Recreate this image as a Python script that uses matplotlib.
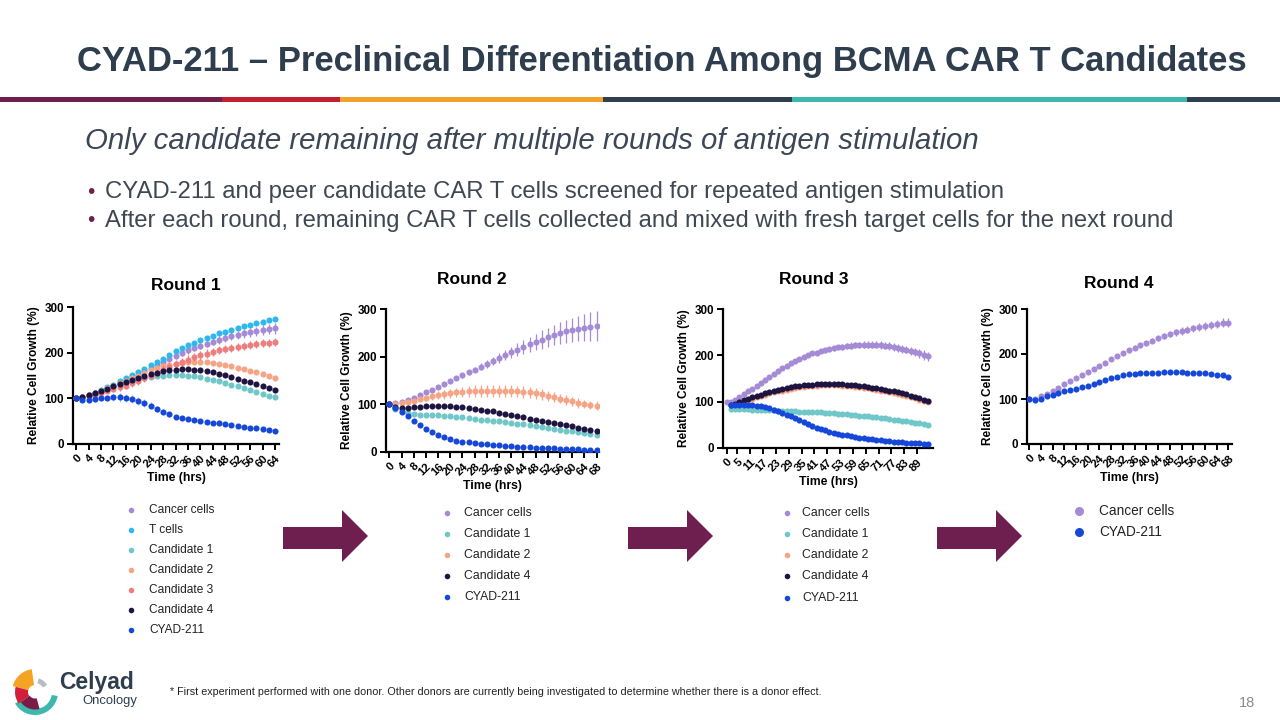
import numpy as np
import matplotlib
matplotlib.use("Agg")
import matplotlib.pyplot as plt
from matplotlib.patches import Polygon, Rectangle, Wedge
from matplotlib import font_manager as fm

# ---------------- data ----------------
nan = np.nan
r1_time = list(range(0, 65, 2))
r1_cancer = [100,103,107,112,117,122,128,134,140,146,152,159,166,172,179,186,193,199,205,210,215,220,224,228,232,236,239,242,245,247,249,251,253]
r1_tcells = [100,103,107,112,118,124,130,137,144,151,158,165,172,179,186,195,204,210,216,222,227,232,237,242,246,250,254,258,261,265,268,271,274]
r1_cand1 = [100,103,107,111,116,121,126,131,135,139,142,145,147,149,150,151,151,151,150,148,146,143,140,137,134,130,126,122,118,114,110,106,102]
r1_cand2 = [100,103,107,112,117,122,127,133,139,145,150,156,161,166,170,173,176,178,180,180,180,179,177,175,173,170,167,164,160,157,153,149,145]
r1_cand3 = [100,102,105,108,112,116,120,124,128,133,138,144,150,156,163,169,175,180,185,190,194,198,202,205,208,211,213,215,217,219,221,222,223]
r1_cand4 = [100,103,107,111,116,121,126,131,136,141,145,149,153,156,159,161,163,164,164,163,162,160,157,154,151,147,143,139,135,131,127,122,118]
r1_cyad = [100,97,97,98,100,101,102,102,101,99,95,90,84,77,71,65,60,57,54,52,50,48,46,45,43,42,40,38,36,35,33,31,29]
r1_cancer_err = [0,1,1,2,2,2,3,3,3,4,4,4,5,5,5,6,6,6,7,7,7,8,8,8,9,9,9,10,10,10,11,11,12]
r1_cand3_err = [0,1,2,3,4,5,6,7,7,8,8,8,8,9,9,9,9,9,9,9,9,9,9,9,9,9,9,9,9,9,9,9,9]
r1_cyad_err = [0,2,4,5,6,7,8,9,9,9,9,8,8,7,6,5,4,3,3,2,2,2,2,2,2,2,2,2,2,2,2,2,2]
r1_xticks = list(range(0, 65, 4))

r2_time = list(range(0, 69, 2))
r2_cancer = [100,102,105,109,114,119,125,131,137,143,149,155,161,167,173,179,185,191,197,203,209,215,221,226,231,236,241,245,249,253,256,259,261,263,264]
r2_cand1 = [100,90,85,81,79,78,78,77,77,76,75,74,73,71,70,68,67,65,64,62,61,59,58,56,54,52,51,49,47,45,44,42,40,38,36]
r2_cand2 = [100,101,103,105,108,111,114,117,119,121,123,125,126,127,128,128,128,128,128,128,128,127,126,125,123,121,118,115,112,109,106,103,101,99,97]
r2_cand4 = [100,95,93,93,94,95,96,96,96,96,96,95,94,93,91,89,87,85,82,80,78,75,73,70,68,65,63,61,58,56,54,51,49,47,45]
r2_cyad = [100,92,83,75,66,57,49,42,36,31,27,24,22,20,18,17,16,15,14,13,12,11,10,10,9,9,8,8,7,7,6,6,5,5,5]
r2_cancer_err = [0,1,1,1,2,2,2,3,3,3,4,4,5,5,6,7,8,9,10,11,12,13,15,16,17,19,20,21,23,24,26,27,29,30,32]
r2_cand2_err = [0,1,2,3,4,5,6,7,8,9,10,10,11,11,12,12,12,12,12,12,12,12,12,12,12,11,11,11,10,10,10,10,9,9,9]
r2_xticks = list(range(0, 69, 4))

r3_time = list(range(0, 95, 2))
r3_cancer = [100,100,104,110,116,122,128,134,141,147,154,160,166,172,178,183,188,192,196,200,204,206,209,211,213,215,217,218,220,221,222,222,223,223,223,223,222,221,220,218,216,214,212,210,207,204,201,198]
r3_cand1 = [nan,85,84,84,84,84,83,83,83,82,82,81,80,80,79,79,79,78,78,78,78,77,77,76,76,75,74,74,73,72,71,70,69,68,67,66,65,64,63,61,60,59,58,56,55,53,51,49]
r3_cand2 = [nan,92,94,97,100,103,106,109,112,115,118,120,122,124,126,128,130,131,132,133,134,134,135,135,135,135,135,134,134,133,132,131,130,129,127,126,124,122,120,118,116,114,112,110,107,104,101,99]
r3_cand4 = [nan,93,96,100,103,106,109,112,115,118,121,123,125,127,129,131,133,134,135,136,137,138,138,139,139,139,138,138,137,136,135,134,133,132,130,129,127,126,124,122,120,118,116,113,110,107,104,101]
r3_cyad = [nan,92,93,93,93,93,92,91,90,88,86,83,80,76,72,68,64,60,56,52,48,44,41,38,35,33,31,29,27,25,23,22,21,20,19,18,17,16,15,14,13,12,11,11,10,10,9,9]
r3_cancer_err = [0,0,1,1,1,1,1,1,1,2,2,2,2,2,2,3,3,3,4,4,4,5,5,5,6,6,6,6,7,7,7,7,8,8,8,8,8,8,8,8,8,8,8,9,9,9,10,10]
r3_cyad_err = [0,1,1,2,2,3,3,4,4,5,5,6,6,6,6,6,6,6,6,6,6,5,5,5,5,4,4,4,4,4,3,3,3,3,3,3,3,3,2,2,2,2,2,2,2,2,2,2]
r3_xticks = [0,5,11,17,23,29,35,41,47,53,59,65,71,77,83,89]

r4_time = list(range(0, 69, 2))
r4_cancer = [100,100,106,111,118,125,133,139,146,153,160,166,173,180,188,195,202,208,214,219,224,230,235,240,244,248,251,254,257,260,262,265,267,269,270]
r4_cyad = [100,97,101,106,110,114,117,120,123,126,130,134,138,143,147,150,153,155,156,157,157,158,158,159,159,159,159,158,158,157,157,155,154,153,150]
r4_cancer_err = [0,1,1,1,1,2,2,2,2,3,3,3,3,4,4,4,5,5,5,5,6,6,6,7,7,7,8,8,8,8,9,9,9,10,10]
r4_xticks = list(range(0, 69, 4))

y_ticks = [0, 100, 200, 300]
round_titles = ["Round 1", "Round 2", "Round 3", "Round 4"]
title_text = "CYAD-211 \u2013 Preclinical Differentiation Among BCMA CAR T Candidates"
subtitle_text = "Only candidate remaining after multiple rounds of antigen stimulation"
bullets = ["CYAD-211 and peer candidate CAR T cells screened for repeated antigen stimulation",
           "After each round, remaining CAR T cells collected and mixed with fresh target cells for the next round"]
footnote = "* First experiment performed with one donor. Other donors are currently being investigated to determine whether there is a donor effect."
page_no = "18"

COLORS = {
    "Cancer cells": "#A58BD5",
    "T cells": "#2EB8EB",
    "Candidate 1": "#6FC7C9",
    "Candidate 2": "#F5A585",
    "Candidate 3": "#EE7E7E",
    "Candidate 4": "#1E1442",
    "CYAD-211": "#1547D8",
}
CYAD_ERR = "#86D6F2"

# ---------------- fonts ----------------
def has_font(name):
    try:
        fm.findfont(fm.FontProperties(family=name), fallback_to_default=False)
        return True
    except Exception:
        return False

BASE = "Liberation Sans" if has_font("Liberation Sans") else "DejaVu Sans"
plt.rcParams["font.family"] = [BASE, "DejaVu Sans"]

W, H = 1280, 720
fig = plt.figure(figsize=(12.8, 7.2), dpi=100)
fig.patch.set_facecolor("white")

ov = fig.add_axes([0, 0, 1, 1])
ov.set_xlim(0, W)
ov.set_ylim(H, 0)
ov.axis("off")
ov.set_zorder(0)

# header
t_title = ov.text(77, 61, title_text, fontsize=27, fontweight="bold", color="#2E3E4E",
                  ha="left", va="center")
bar_segments = [(0, 222, "#701E50"), (222, 340, "#C2202F"), (340, 603, "#F1A22A"),
                (603, 792, "#2E3F50"), (792, 1187, "#3DB8AE"), (1187, 1280, "#2E3F50")]
for x0, x1, c in bar_segments:
    ov.add_patch(Rectangle((x0, 97), x1 - x0, 5, color=c, lw=0))

t_sub = ov.text(85, 141, subtitle_text, fontsize=20, style="italic", color="#3B4756", ha="left", va="center")
t_bul = []
for i, b in enumerate(bullets):
    y = 192 + i * 29
    ov.text(87, y, "\u2022", fontsize=15, color="#6D1F4E", ha="left", va="center")
    t_bul.append(ov.text(105, y, b, fontsize=16, color="#3E4752", ha="left", va="center"))
t_foot = ov.text(170, 692, footnote, fontsize=7.5, color="#222222", ha="left", va="center")

fig.canvas.draw()
rdr = fig.canvas.get_renderer()
def fit(txt, target):
    w = txt.get_window_extent(rdr).width
    txt.set_fontsize(txt.get_fontsize() * target / w)
fit(t_title, 1168)
fit(t_sub, 892)
fit(t_bul[0], 902)
t_bul[1].set_fontsize(t_bul[0].get_fontsize())
fit(t_foot, 645)

# ---------------- charts ----------------
def px_axes(l, t, rgt, b):
    return fig.add_axes([l / W, 1 - b / H, (rgt - l) / W, (b - t) / H])

def draw_round(box, xlim, t, series, xticks, title, title_xy):
    ax = px_axes(*box)
    ax.set_zorder(2)
    ax.patch.set_alpha(0)
    for k, (name, vals, err, ecol) in enumerate(series):
        ax.errorbar(t, np.array(vals, dtype=float), yerr=np.array(err, dtype=float) if np.ndim(err) else err,
                    fmt="o", ms=4.4, mew=0, color=COLORS[name], ecolor=ecol or COLORS[name],
                    elinewidth=0.9, capsize=2.0, capthick=0.9, zorder=3 + k)
    ax.set_xlim(*xlim)
    ax.set_ylim(0, 300)
    ax.set_yticks(y_ticks)
    ax.set_yticklabels([str(v) for v in y_ticks], fontsize=8.4, fontweight="bold")
    ax.set_xticks(xticks)
    ax.set_xticklabels([str(v) for v in xticks], rotation=45, ha="right", rotation_mode="anchor",
                       fontsize=8.2, fontweight="bold")
    for s in ("top", "right"):
        ax.spines[s].set_visible(False)
    for s in ("left", "bottom"):
        ax.spines[s].set_linewidth(1.6)
    ax.tick_params(direction="out", length=4, width=1.4, pad=2.5)
    ax.set_ylabel("Relative Cell Growth (%)", fontsize=8.6, fontweight="bold", labelpad=3)
    ax.set_xlabel("Time (hrs)", fontsize=8.8, fontweight="bold", labelpad=2)
    ov.text(title_xy[0], title_xy[1], title, fontsize=12.5, fontweight="bold", ha="center", va="center")
    return [s[0] for s in series]

rounds = [
    dict(box=(73, 307, 279, 444), xlim=(-1.0, 65.3), t=r1_time, xticks=r1_xticks, title_xy=(186, 285),
         series=[("Cancer cells", r1_cancer, r1_cancer_err, None),
                 ("T cells", r1_tcells, 2, None),
                 ("Candidate 1", r1_cand1, 2, None),
                 ("Candidate 2", r1_cand2, 3, None),
                 ("Candidate 3", r1_cand3, r1_cand3_err, None),
                 ("Candidate 4", r1_cand4, 1.5, None),
                 ("CYAD-211", r1_cyad, r1_cyad_err, CYAD_ERR)],
         legend=dict(mx=131, tx=149, ys=[510, 530, 550, 570, 590, 610, 630], fs=8.6, ms=4)),
    dict(box=(386, 309, 599, 452), xlim=(-1.1, 68.8), t=r2_time, xticks=r2_xticks, title_xy=(472, 280),
         series=[("Cancer cells", r2_cancer, r2_cancer_err, None),
                 ("Candidate 1", r2_cand1, 2, None),
                 ("Candidate 2", r2_cand2, r2_cand2_err, None),
                 ("Candidate 4", r2_cand4, 1.5, None),
                 ("CYAD-211", r2_cyad, 1.5, CYAD_ERR)],
         legend=dict(mx=447, tx=464, ys=[513, 534, 555, 576, 597], fs=8.8, ms=4)),
    dict(box=(723, 309, 933, 448), xlim=(-1.7, 96.4), t=r3_time, xticks=r3_xticks, title_xy=(814, 280),
         series=[("Cancer cells", r3_cancer, r3_cancer_err, None),
                 ("Candidate 1", r3_cand1, 2, None),
                 ("Candidate 2", r3_cand2, 2, None),
                 ("Candidate 4", r3_cand4, 2, None),
                 ("CYAD-211", r3_cyad, r3_cyad_err, CYAD_ERR)],
         legend=dict(mx=787, tx=802, ys=[513, 534, 555, 576, 598], fs=8.8, ms=4)),
    dict(box=(1027, 309, 1232, 444), xlim=(-0.7, 69.2), t=r4_time, xticks=r4_xticks, title_xy=(1119, 284),
         series=[("Cancer cells", r4_cancer, r4_cancer_err, None),
                 ("CYAD-211", r4_cyad, 2, CYAD_ERR)],
         legend=dict(mx=1079, tx=1099, ys=[511, 532], fs=9.8, ms=6.5)),
]

for rd, ttl in zip(rounds, round_titles):
    names = draw_round(rd["box"], rd["xlim"], rd["t"], rd["series"], rd["xticks"], ttl, rd["title_xy"])
    lg = rd["legend"]
    for name, y in zip(names, lg["ys"]):
        ov.plot([lg["mx"]], [y], "o", ms=lg["ms"], mew=0, color=COLORS[name])
        ov.text(lg["tx"], y, name, fontsize=lg["fs"], color="#222222", ha="left", va="center")

# ---------------- arrows ----------------
ARROW = "#6E1F4F"
for x0 in (283, 628, 937):
    pts = [(x0, 527), (x0 + 59, 527), (x0 + 59, 510), (x0 + 85, 536),
           (x0 + 59, 562), (x0 + 59, 549), (x0, 549)]
    ov.add_patch(Polygon(pts, closed=True, color=ARROW, lw=0))

# ---------------- logo & footer ----------------
cx, cy = 35, 692
ov.add_patch(Wedge((cx, cy), 23, 10, 150, width=6, color="#3DB8AE", lw=0))
ov.add_patch(Wedge((cx, cy), 23, 195, 262, width=16, color="#F5A323", lw=0))
ov.add_patch(Wedge((cx, cy), 20, 145, 195, width=13, color="#D2203C", lw=0))
ov.add_patch(Wedge((cx, cy), 17.5, 75, 145, width=11, color="#7A1C47", lw=0))
ov.add_patch(Wedge((cx, cy), 14, 285, 330, width=5, color="#B8BCC2", lw=0))
ov.text(59, 683, "Celyad", fontsize=16.5, fontweight="bold", color="#2E3E4E", ha="left", va="center")
ov.text(82, 701, "Oncology", fontsize=9.4, color="#2E3E4E", ha="left", va="center")

ov.text(1255, 703, page_no, fontsize=10.5, color="#8A8A8A", ha="right", va="center")

fig.savefig("out.png", dpi=100, facecolor="white")
